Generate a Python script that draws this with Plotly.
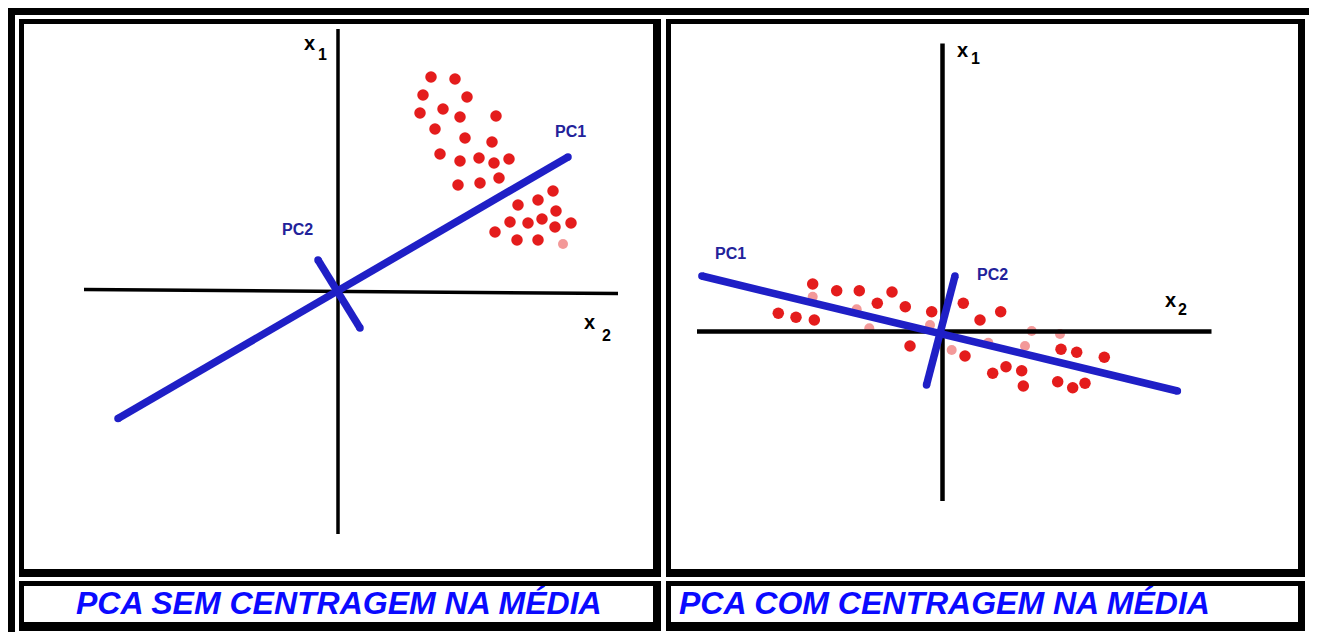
import plotly.graph_objects as go

W, H = 1317, 632
OFF = 8  # the page body keeps its default 8 px margin

# Left picture: PCA without mean centring (1 unit = 10 px, origin where the axes cross)
a_dots_x = [9.3, 11.7, 8.5, 12.9, 8.2, 10.5, 12.2, 15.8, 9.7, 12.7, 15.4, 10.2, 12.2, 14.1,
            15.6, 17.1, 12.0, 14.2, 16.1, 18.0, 20.0, 21.5, 21.8, 17.2, 19.0, 20.4, 21.7,
            23.3, 15.7, 17.9, 20.0]
a_dots_y = [21.4, 21.2, 19.6, 19.4, 17.8, 18.2, 17.4, 17.5, 16.2, 15.3, 14.9, 13.7, 13.0, 13.3,
            12.8, 13.2, 10.6, 10.8, 11.3, 8.6, 9.1, 10.0, 8.0, 6.9, 6.8, 7.2, 6.4,
            6.8, 5.9, 5.1, 5.1]
a_part_x = [22.5]
a_part_y = [4.7]
a_x2_axis = ([-25.4, 28.0], [0.15, -0.25])
a_x1_axis = ([0, 0], [26.2, -24.3])
a_pc1 = ([-22.0, 23.0], [-12.75, 13.4])
a_pc2 = ([-2.0, 2.2], [3.1, -3.7])

# Right picture: PCA with mean centring
b_dots_x = [-12.98, -10.58, -8.32, -5.05, -6.52, -3.72, -1.08, 2.08, 5.82, 3.75, -16.42,
            -14.65, -12.82, -3.25, 2.25, 5.02, 6.35, 7.92, 8.08, 11.52, 13.02, 14.25,
            11.85, 13.42, 16.18]
b_dots_y = [4.75, 4.08, 4.08, 3.95, 2.82, 2.48, 1.98, 2.82, 1.98, 1.15, 1.82,
            1.42, 1.15, -1.45, -2.45, -4.18, -3.52, -3.92, -5.45, -5.02, -5.62, -5.18,
            -1.78, -2.08, -2.58]
b_part_x = [-12.98, -8.58, -7.32, -1.25, 0.92, 8.92, 8.25, 11.75, 4.58]
b_part_y = [3.48, 2.22, 0.32, 0.65, -1.85, 0.05, -1.45, -0.25, -1.12]
b_x2_axis = ([-24.55, 26.9], [0.0, 0.0])
b_x1_axis = ([0, 0], [28.8, -16.95])
b_pc1 = ([-24.06, 23.49], [5.55, -5.95])
b_pc2 = ([1.25, -1.6], [5.55, -5.35])

captions = ["PCA SEM CENTRAGEM NA MÉDIA", "PCA COM CENTRAGEM NA MÉDIA"]

RED = "#e41c1c"
BLUE = "#1f1fc6"
LABEL_BLUE = "#22229a"

FW, FH = W - OFF, H - OFF


def px(p):
    return (p - OFF) / FW


def py(p):
    return 1 - (p - OFF) / FH


def panel_traces(xa, ya, dots_x, dots_y, part_x, part_y, x2_axis, x1_axis, pc1, pc2, axis_w):
    traces = []
    traces.append(go.Scatter(x=part_x, y=part_y, mode="markers", xaxis=xa, yaxis=ya,
                             marker=dict(color=RED, size=10, opacity=0.45)))
    traces.append(go.Scatter(x=dots_x, y=dots_y, mode="markers", xaxis=xa, yaxis=ya,
                             marker=dict(color=RED, size=11.5)))
    for ln in (x2_axis, x1_axis):
        traces.append(go.Scatter(x=ln[0], y=ln[1], mode="lines", xaxis=xa, yaxis=ya,
                                 line=dict(color="black", width=axis_w)))
    for ln in (pc1, pc2):
        traces.append(go.Scatter(x=ln[0], y=ln[1], mode="lines+markers", xaxis=xa, yaxis=ya,
                                 line=dict(color=BLUE, width=7.5),
                                 marker=dict(color=BLUE, size=7.5)))
    return traces


fig = go.Figure()
for t in panel_traces("x", "y", a_dots_x, a_dots_y, a_part_x, a_part_y,
                      a_x2_axis, a_x1_axis, a_pc1, a_pc2, 3.5):
    fig.add_trace(t)
for t in panel_traces("x2", "y2", b_dots_x, b_dots_y, b_part_x, b_part_y,
                      b_x2_axis, b_x1_axis, b_pc1, b_pc2, 4.5):
    fig.add_trace(t)


def rect(x0, y0, x1, y1, color):
    return dict(type="rect", xref="paper", yref="paper", layer="below",
                x0=px(x0), x1=px(x1), y0=py(y1), y1=py(y0),
                fillcolor=color, line=dict(width=0))


shapes = [
    rect(7, 7, 1315, 15, "black"),
    rect(7, 7, 15, 632, "black"),
    rect(1310, 7, 1315, 632, "black"),
]
cells = [
    ((19, 19, 661, 577), (24, 24, 653, 569)),
    ((666, 19, 1305, 577), (671, 24, 1298, 569)),
    ((19, 581, 661, 631), (24, 586, 653, 622)),
    ((666, 581, 1305, 631), (671, 586, 1298, 622)),
]
for outer, inner in cells:
    shapes.append(rect(*outer, "black"))
    shapes.append(rect(*inner, "white"))

x_font = dict(family="Liberation Sans, Arial", size=20, color="black", weight="bold")
sub_font = dict(family="Liberation Sans, Arial", size=16, color="black", weight="bold")
pc_font = dict(family="Liberation Sans, Arial", size=16, color=LABEL_BLUE, weight="bold")
cap_font = dict(family="Liberation Sans, Arial", size=32, color="#0a0aff",
                weight="bold", style="italic")


def label(x, y, ref, text, font):
    return dict(x=x, y=y, xref=ref[0], yref=ref[1], text=text, font=font, showarrow=False)


annotations = [
    # left picture
    label(-2.9, 24.8, ("x", "y"), "x", x_font),
    label(-1.6, 23.7, ("x", "y"), "1", sub_font),
    label(25.1, -3.1, ("x", "y"), "x", x_font),
    label(26.8, -4.4, ("x", "y"), "2", sub_font),
    label(23.2, 16.0, ("x", "y"), "PC1", pc_font),
    label(-4.1, 6.2, ("x", "y"), "PC2", pc_font),
    # right picture
    label(2.05, 28.2, ("x2", "y2"), "x", x_font),
    label(3.35, 27.3, ("x2", "y2"), "1", sub_font),
    label(22.75, 3.2, ("x2", "y2"), "x", x_font),
    label(24.0, 2.2, ("x2", "y2"), "2", sub_font),
    label(-21.15, 7.85, ("x2", "y2"), "PC1", pc_font),
    label(4.99, 5.75, ("x2", "y2"), "PC2", pc_font),
    dict(x=px(339.5), y=py(603), xref="paper", yref="paper", text=captions[0],
         font=cap_font, showarrow=False, xanchor="center", yanchor="middle"),
    dict(x=px(677), y=py(603), xref="paper", yref="paper", text=captions[1],
         font=cap_font, showarrow=False, xanchor="left", yanchor="middle"),
]

hidden = dict(visible=False, fixedrange=True)
fig.update_layout(
    width=FW, height=FH,
    margin=dict(l=0, r=0, t=0, b=0),
    paper_bgcolor="white",
    plot_bgcolor="rgba(0,0,0,0)",
    showlegend=False,
    xaxis=dict(domain=[px(24), px(653)], range=[-31.4, 31.5], **hidden),
    yaxis=dict(domain=[py(569), py(24)], range=[-27.8, 26.7], **hidden),
    xaxis2=dict(domain=[px(671), px(1298)], range=[-27.15, 35.55], **hidden),
    yaxis2=dict(domain=[py(569), py(24)], range=[-23.75, 30.75], **hidden),
    shapes=shapes,
    annotations=annotations,
)

fig.write_html("out.html", config=dict(displayModeBar=False))
